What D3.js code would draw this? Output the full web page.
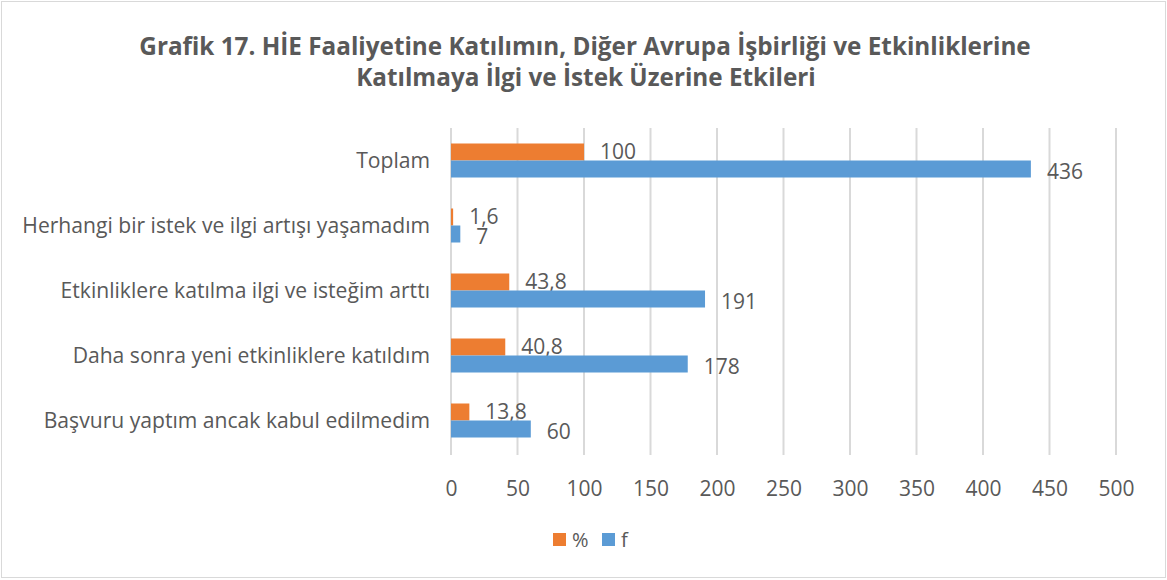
<!DOCTYPE html>
<html>
<head>
<meta charset="utf-8">
<script src="https://cdn.jsdelivr.net/npm/d3@7"></script>
<style>
body { margin: 0; background: #fff; }
text { font-family: "Open Sans", "Noto Sans", sans-serif; fill: #595959; }
</style>
</head>
<body>
<div id="chart"></div>
<script>
var categories = ["Toplam", "Herhangi bir istek ve ilgi artışı yaşamadım", "Etkinliklere katılma ilgi ve isteğim arttı",
  "Daha sonra yeni etkinliklere katıldım", "Başvuru yaptım ancak kabul edilmedim"];
var pct = [100, 1.6, 43.8, 40.8, 13.8];
var freq = [436, 7, 191, 178, 60];
var ticks = [0, 50, 100, 150, 200, 250, 300, 350, 400, 450, 500];
var titleLines = ["Grafik 17. HİE Faaliyetine Katılımın, Diğer Avrupa İşbirliği ve Etkinliklerine",
  "Katılmaya İlgi ve İstek Üzerine Etkileri"];
var seriesNames = ["%", "f"];
var colors = ["#ED7D31", "#5B9BD5"];

var W = 1167, H = 580;
var svg = d3.select("#chart").append("svg").attr("width", W).attr("height", H);

svg.append("rect").attr("x", 1.5).attr("y", 1.5).attr("width", W - 3).attr("height", H - 4)
  .attr("fill", "#fff").attr("stroke", "#d9d9d9");

// squeeze a text to a target width by shrinking font-size
function fit(sel, width) {
  var w = sel.node().getComputedTextLength();
  var fs = parseFloat(sel.style("font-size"));
  sel.style("font-size", (fs * width / w) + "px");
}

var t1 = svg.append("text").attr("x", 585).attr("y", 55).attr("text-anchor", "middle")
  .style("font-weight", "bold").style("font-size", "22px").text(titleLines[0]);
fit(t1, 892);
var t2 = svg.append("text").attr("x", 586).attr("y", 86).attr("text-anchor", "middle")
  .style("font-weight", "bold").style("font-size", t1.style("font-size")).text(titleLines[1]);

var x = d3.scaleLinear().domain([0, 500]).range([451, 1116]);
var y = d3.scaleBand().domain(categories).range([128, 453]);

svg.append("g").selectAll("line").data(ticks).join("line")
  .attr("x1", d => x(d)).attr("x2", d => x(d))
  .attr("y1", 128).attr("y2", 455)
  .attr("stroke", "#d9d9d9").attr("stroke-width", 2);

var xa = svg.append("g").attr("transform", "translate(0,496)")
  .call(d3.axisBottom(x).tickValues(ticks).tickSize(0).tickPadding(0));
xa.select(".domain").remove();
xa.selectAll("text").style("font-size", "21px").attr("fill", "#595959").attr("dy", 0);

var ya = svg.append("g").attr("transform", "translate(430,0)")
  .call(d3.axisLeft(y).tickSize(0).tickPadding(0));
ya.select(".domain").remove();
ya.selectAll("text").style("font-size", "19px").attr("fill", "#595959").attr("dy", "0.35em");
var longest = ya.selectAll("text").filter(d => d === categories[1]);
fit(longest, 408);
ya.selectAll("text").style("font-size", longest.style("font-size"));

var bh = 17;
var fmt = d => String(d).replace(".", ",");

[pct, freq].forEach(function(vals, s) {
  var g = svg.append("g");
  g.selectAll("rect").data(vals).join("rect")
    .attr("x", x(0))
    .attr("y", (d, i) => y(categories[i]) + y.bandwidth() / 2 - bh + s * bh)
    .attr("width", d => x(d) - x(0))
    .attr("height", bh)
    .attr("fill", colors[s]);
  g.selectAll("text").data(vals).join("text")
    .attr("x", d => x(d) + 16)
    .attr("y", (d, i) => y(categories[i]) + y.bandwidth() / 2 - bh / 2 + s * (bh + 3))
    .attr("dy", "0.35em")
    .style("font-size", "21px")
    .text(fmt);
});

var lg = svg.append("g");
var lx = [553, 602];
seriesNames.forEach(function(n, i) {
  lg.append("rect").attr("x", lx[i]).attr("y", 533).attr("width", 13).attr("height", 13).attr("fill", colors[i]);
  lg.append("text").attr("x", lx[i] + 19).attr("y", 540).attr("dy", "0.35em").style("font-size", "20px").text(n);
});
</script>
</body>
</html>
